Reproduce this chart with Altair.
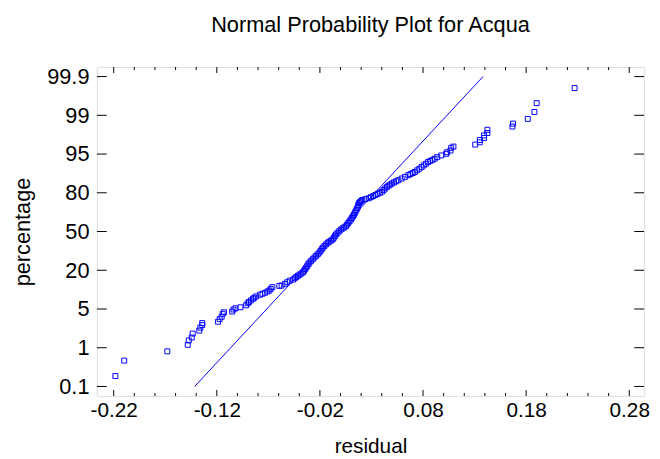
import altair as alt
import pandas as pd
from statistics import NormalDist

# residuals, with their normal quantile (plot position)
residual = [
    -0.2184, -0.2098, -0.1680, -0.1482, -0.1472, -0.1443, -0.1434, -0.1370, -0.1360, -0.1341,
    -0.1341, -0.1188, -0.1172, -0.1153, -0.1143, -0.1130, -0.1051, -0.1038, -0.1019, -0.0971,
    -0.0916, -0.0900, -0.0888, -0.0869, -0.0849, -0.0837, -0.0818, -0.0780, -0.0757, -0.0732,
    -0.0709, -0.0690, -0.0677, -0.0661, -0.0594, -0.0572, -0.0540, -0.0517, -0.0492, -0.0460,
    -0.0444, -0.0428, -0.0413, -0.0397, -0.0380, -0.0364, -0.0353, -0.0343, -0.0332, -0.0322,
    -0.0311, -0.0301, -0.0285, -0.0269, -0.0253, -0.0237, -0.0221, -0.0205, -0.0194, -0.0183,
    -0.0172, -0.0156, -0.0140, -0.0124, -0.0108, -0.0092, -0.0076, -0.0066, -0.0055, -0.0045,
    -0.0029, -0.0013, 0.0003, 0.0019, 0.0035, 0.0051, 0.0063, 0.0075, 0.0087, 0.0099,
    0.0109, 0.0120, 0.0130, 0.0138, 0.0146, 0.0155, 0.0163, 0.0168, 0.0173, 0.0178,
    0.0189, 0.0200, 0.0211, 0.0242, 0.0274, 0.0295, 0.0317, 0.0338, 0.0359, 0.0381,
    0.0402, 0.0418, 0.0434, 0.0450, 0.0466, 0.0482, 0.0498, 0.0519, 0.0540, 0.0561,
    0.0593, 0.0625, 0.0657, 0.0678, 0.0700, 0.0721, 0.0743, 0.0764, 0.0786, 0.0807,
    0.0828, 0.0849, 0.0870, 0.0892, 0.0913, 0.0938, 0.0977, 0.1025, 0.1034, 0.1066,
    0.1073, 0.1095, 0.1306, 0.1351, 0.1351, 0.1392, 0.1392, 0.1424, 0.1424, 0.1667,
    0.1673, 0.1816, 0.1880, 0.1902, 0.2270,
]
normal_quantile = [
    -2.882, -2.575, -2.390, -2.260, -2.173, -2.114, -2.035, -1.976, -1.917, -1.866,
    -1.826, -1.799, -1.747, -1.700, -1.641, -1.610, -1.596, -1.556, -1.531, -1.511,
    -1.472, -1.432, -1.405, -1.373, -1.340, -1.320, -1.294, -1.261, -1.241, -1.221,
    -1.196, -1.176, -1.143, -1.109, -1.084, -1.078, -1.044, -1.011, -0.979, -0.959,
    -0.932, -0.906, -0.881, -0.859, -0.836, -0.814, -0.781, -0.748, -0.715, -0.682,
    -0.650, -0.617, -0.584, -0.551, -0.518, -0.485, -0.453, -0.420, -0.387, -0.354,
    -0.321, -0.288, -0.256, -0.223, -0.201, -0.180, -0.158, -0.125, -0.092, -0.059,
    -0.026, 0.006, 0.039, 0.061, 0.082, 0.104, 0.137, 0.170, 0.203, 0.236,
    0.269, 0.302, 0.335, 0.368, 0.401, 0.434, 0.467, 0.500, 0.532, 0.565,
    0.587, 0.608, 0.630, 0.647, 0.664, 0.686, 0.707, 0.729, 0.751, 0.772,
    0.794, 0.827, 0.859, 0.892, 0.914, 0.937, 0.959, 0.981, 1.002, 1.024,
    1.057, 1.090, 1.123, 1.145, 1.166, 1.188, 1.221, 1.253, 1.286, 1.319,
    1.352, 1.385, 1.407, 1.430, 1.452, 1.483, 1.517, 1.550, 1.582, 1.615,
    1.669, 1.694, 1.734, 1.779, 1.826, 1.866, 1.917, 1.964, 2.029, 2.094,
    2.153, 2.246, 2.384, 2.561, 2.862,
]

# reference normal line, drawn from 0.1% to 99.9%
line_residual = [-0.1415, 0.1382]
line_percentage = [0.1, 99.9]

x_major = [-0.22, -0.12, -0.02, 0.08, 0.18, 0.28]
x_minor = [-0.20, -0.18, -0.16, -0.14, -0.10, -0.08, -0.06, -0.04, 0.00, 0.02,
           0.04, 0.06, 0.10, 0.12, 0.14, 0.16, 0.20, 0.22, 0.24, 0.26]
y_percent = ["0.1", "1", "5", "20", "50", "80", "95", "99", "99.9"]

nd = NormalDist()
z_lo = nd.inv_cdf(0.001)
z_hi = nd.inv_cdf(0.999)
# the percentage labels sit at evenly spaced positions between 0.1 and 99.9
y_pos = [z_lo + i * (z_hi - z_lo) / (len(y_percent) - 1) for i in range(len(y_percent))]

pts = pd.DataFrame({"residual": residual, "z": normal_quantile})
line_df = pd.DataFrame({"residual": line_residual,
                        "z": [nd.inv_cdf(p / 100) for p in line_percentage]})
xmaj_df = pd.DataFrame({"residual": x_major})
xmin_df = pd.DataFrame({"residual": x_minor})
ytick_df = pd.DataFrame({"z": y_pos})

W, H = 554, 333
FONT = "Liberation Sans"
BLUE = "#0000ff"

xs = alt.Scale(domain=[-0.2363, 0.2944], nice=False, zero=False)
ys = alt.Scale(domain=[-3.28, 3.28], nice=False, zero=False)

y_label_expr = (
    "datum.value < -2.7 ? '0.1' : datum.value < -1.9 ? '1' : datum.value < -1.15 ? '5' : "
    "datum.value < -0.4 ? '20' : datum.value < 0.4 ? '50' : datum.value < 1.15 ? '80' : "
    "datum.value < 1.9 ? '95' : datum.value < 2.7 ? '99' : '99.9'"
)

x_axis = alt.Axis(values=x_major, labelExpr="replace(format(datum.value, '.2f'), '\u2212', '-')",
                  ticks=False, tickSize=0, domain=False, grid=False, labelPadding=4,
                  labelFont=FONT, labelFontSize=21, labelColor="black",
                  title="residual", titleFont=FONT, titleFontSize=21,
                  titleFontWeight="normal", titleColor="black", titlePadding=15,
                  labelFlush=False)
y_axis = alt.Axis(values=y_pos, labelExpr=y_label_expr,
                  ticks=False, tickSize=0, domain=False, grid=False, labelPadding=8,
                  labelFont=FONT, labelFontSize=22, labelColor="black",
                  title="percentage", titleFont=FONT, titleFontSize=22,
                  titleFontWeight="normal", titleColor="black", titlePadding=12,
                  labelFlush=False)

X = alt.X("residual:Q", scale=xs, axis=x_axis)
Y = alt.Y("z:Q", scale=ys, axis=y_axis)

points = alt.Chart(pts).mark_point(shape="square", filled=False, size=25,
                                   strokeWidth=1, color=BLUE, opacity=1).encode(x=X, y=Y)
line = alt.Chart(line_df).mark_line(color=BLUE, strokeWidth=1).encode(x=X, y=Y)

def xticks(df, length):
    bottom = alt.Chart(df).mark_rule(color="black", strokeWidth=1).encode(
        x=X, y=alt.value(H), y2=alt.value(H - length))
    top = alt.Chart(df).mark_rule(color="black", strokeWidth=1).encode(
        x=X, y=alt.value(0), y2=alt.value(length))
    return [bottom, top]

yl = alt.Chart(ytick_df).mark_rule(color="black", strokeWidth=1).encode(
    y=Y, x=alt.value(0), x2=alt.value(10))
yr = alt.Chart(ytick_df).mark_rule(color="black", strokeWidth=1).encode(
    y=Y, x=alt.value(W), x2=alt.value(W - 10))

chart = alt.layer(
    *xticks(xmaj_df, 6), *xticks(xmin_df, 3), yl, yr, line, points
).properties(
    width=W, height=H,
    title=alt.TitleParams("Normal Probability Plot for Acqua", font=FONT, fontSize=22,
                          fontWeight="normal", color="black", anchor="middle", offset=29),
    padding={"left": 90, "top": 57, "right": 8, "bottom": 61},
    autosize=alt.AutoSizeParams(type="none"),
).configure_view(stroke="black", strokeWidth=1.5).configure(background="white")

chart.save("out.html", embed_options={"renderer": "svg", "actions": False})
